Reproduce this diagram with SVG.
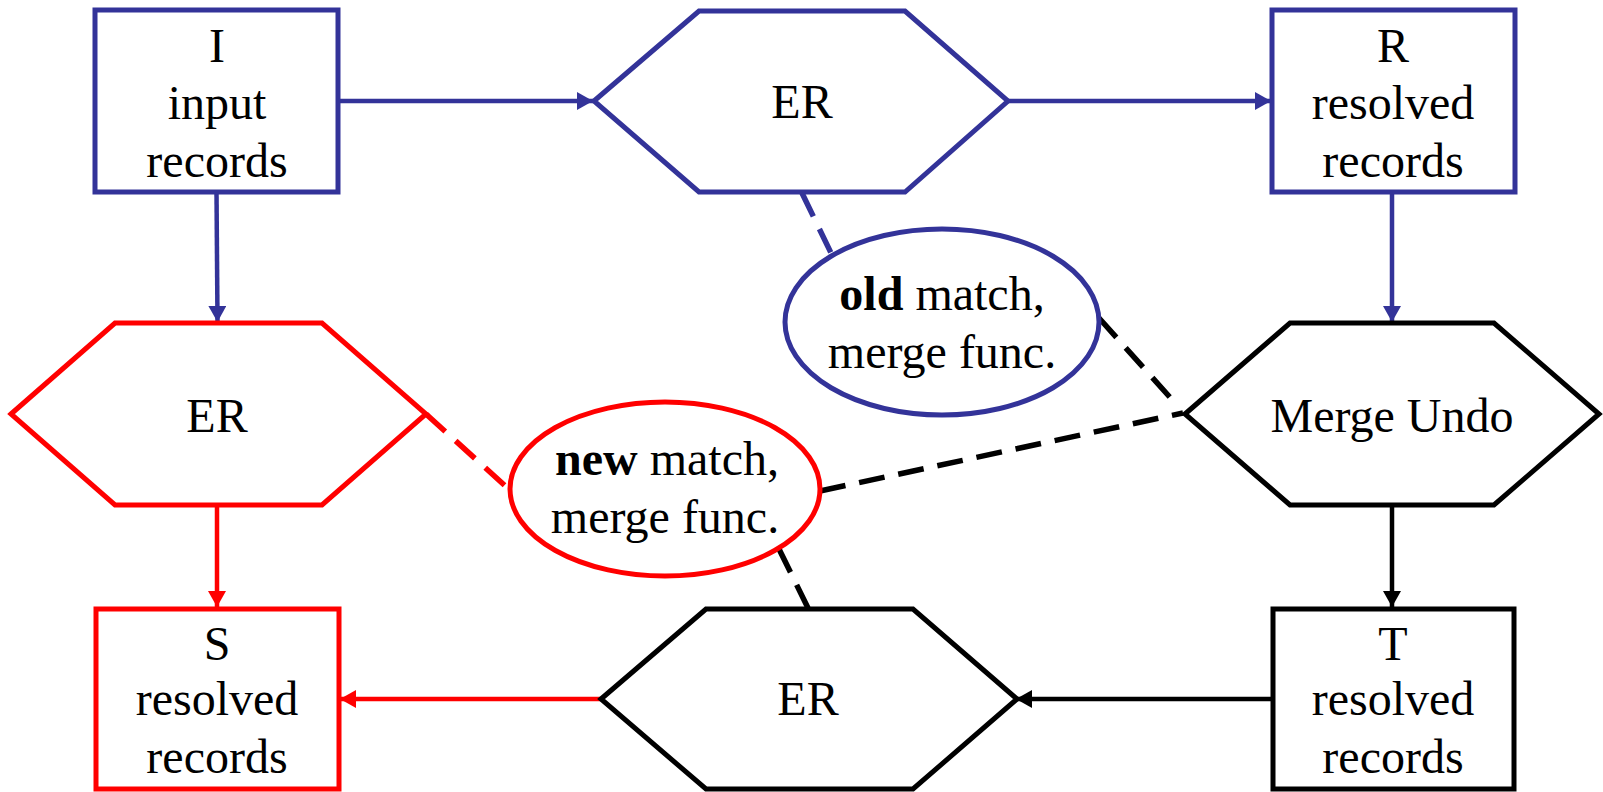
<svg xmlns="http://www.w3.org/2000/svg" width="1603" height="792" viewBox="0 0 1603 792">
<style>
text{font-family:"Liberation Serif","Times New Roman",serif;font-size:48px;fill:#000;text-anchor:middle}
.b{fill:#fff;stroke:#333399;stroke-width:5}
.r{fill:#fff;stroke:#ff0000;stroke-width:5}
.k{fill:#fff;stroke:#000;stroke-width:5}
.cb{stroke:#333399;stroke-width:4.5;fill:none}
.cr{stroke:#ff0000;stroke-width:4.5;fill:none}
.ck{stroke:#000;stroke-width:4.5;fill:none}
.d{stroke-dasharray:26 14;stroke-width:5.5}
.bold{font-weight:bold}
</style>
<defs>
<marker id="ab" markerUnits="userSpaceOnUse" markerWidth="18" markerHeight="18" refX="16" refY="9" orient="auto"><path d="M0,0 L16,9 L0,18 Z" fill="#333399"/></marker>
<marker id="ar" markerUnits="userSpaceOnUse" markerWidth="18" markerHeight="18" refX="16" refY="9" orient="auto"><path d="M0,0 L16,9 L0,18 Z" fill="#ff0000"/></marker>
<marker id="ak" markerUnits="userSpaceOnUse" markerWidth="18" markerHeight="18" refX="16" refY="9" orient="auto"><path d="M0,0 L16,9 L0,18 Z" fill="#000"/></marker>
</defs>
<g id="connectors">
<line class="cb" x1="340" y1="101" x2="593" y2="101" marker-end="url(#ab)"/>
<line class="cb" x1="1008" y1="101" x2="1271" y2="101" marker-end="url(#ab)"/>
<line class="cb" x1="216.5" y1="192" x2="217.5" y2="322" marker-end="url(#ab)"/>
<line class="cb" x1="1392" y1="192" x2="1392" y2="322" marker-end="url(#ab)"/>
<line class="cr" x1="217" y1="505" x2="217" y2="607" marker-end="url(#ar)"/>
<line class="ck" x1="1392" y1="505" x2="1392" y2="607" marker-end="url(#ak)"/>
<line class="ck" x1="1272" y1="699" x2="1016" y2="699" marker-end="url(#ak)"/>
<line class="cr" x1="601" y1="699" x2="340" y2="699" marker-end="url(#ar)"/>
<line class="cb d" x1="802" y1="193" x2="831" y2="253"/>
<line class="cr d" x1="426" y1="414" x2="512" y2="492"/>
<line class="ck d" x1="1099" y1="318" x2="1176" y2="404"/>
<line class="ck d" x1="820" y1="491" x2="1183" y2="413"/>
<line class="ck d" x1="779" y1="549" x2="808" y2="608"/>
</g>
<g id="I">
<rect class="b" x="95" y="10" width="243" height="182"/>
<text x="217" y="62">I</text>
<text x="217" y="119">input</text>
<text x="217" y="177">records</text>
</g>
<g id="ER1">
<polygon class="b" points="594,101 699,11 905,11 1008,101 905,192 699,192"/>
<text x="802" y="118">ER</text>
</g>
<g id="R">
<rect class="b" x="1272" y="10" width="243" height="182"/>
<text x="1393" y="62">R</text>
<text x="1393" y="119">resolved</text>
<text x="1393" y="177">records</text>
</g>
<g id="old">
<ellipse class="b" cx="942" cy="322" rx="157" ry="93"/>
<text x="942" y="310"><tspan class="bold">old</tspan> match,</text>
<text x="942" y="368">merge func.</text>
</g>
<g id="ER2">
<polygon class="r" points="11,414 115,323 322,323 426,414 322,505 115,505"/>
<text x="217" y="432">ER</text>
</g>
<g id="MergeUndo">
<polygon class="k" points="1185,414 1290,323 1494,323 1599,414 1494,505 1290,505"/>
<text x="1392" y="432">Merge Undo</text>
</g>
<g id="new">
<ellipse class="r" cx="665" cy="489" rx="155" ry="87"/>
<text x="667" y="475"><tspan class="bold">new</tspan> match,</text>
<text x="665" y="533">merge func.</text>
</g>
<g id="S">
<rect class="r" x="96" y="609" width="243" height="180"/>
<text x="217" y="660">S</text>
<text x="217" y="715">resolved</text>
<text x="217" y="773">records</text>
</g>
<g id="ER3">
<polygon class="k" points="601,699 706,609 913,609 1017,699 913,789 706,789"/>
<text x="808" y="715">ER</text>
</g>
<g id="T">
<rect class="k" x="1273" y="609" width="241" height="180"/>
<text x="1393" y="660">T</text>
<text x="1393" y="715">resolved</text>
<text x="1393" y="773">records</text>
</g>
</svg>
